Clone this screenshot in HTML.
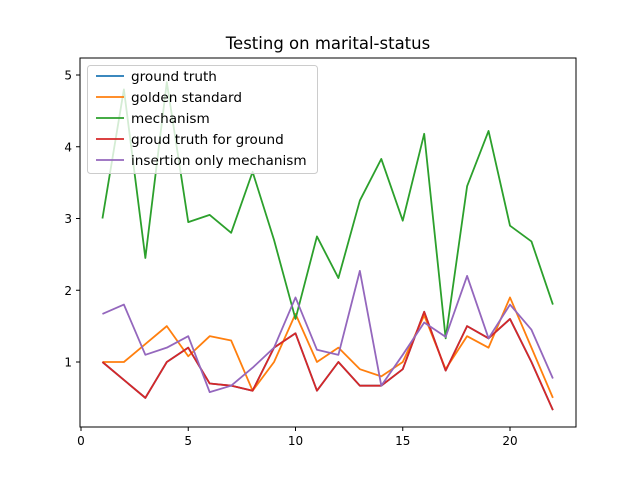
<!DOCTYPE html>
<html><head><meta charset="utf-8"><style>
body{margin:0;background:#fff}
svg{font-family:"DejaVu Sans","Liberation Sans",sans-serif}
</style></head><body>
<svg width="640" height="480" id="c">
<rect width="640" height="480" fill="#fff"/>
<text x="328" y="49" font-size="16.5" text-anchor="middle">Testing on marital-status</text>
<g id="plot"></g>
<rect x="80" y="58" width="496" height="369" fill="none" stroke="#000" stroke-width="1"/>
<g id="axes"></g>
<g id="legend"></g>
</svg>
<script>
const xs=[1,2,3,4,5,6,7,8,9,10,11,12,13,14,15,16,17,18,19,20,21,22];
const groundTruth=[1,0.75,0.5,1,1.2,0.7,0.67,0.6,1.2,1.4,0.6,1,0.67,0.67,0.9,1.7,0.88,1.5,1.33,1.6,1,0.33];
const goldenStandard=[1,1,1.25,1.5,1.08,1.36,1.3,0.6,1,1.67,1,1.2,0.9,0.8,1,1.65,0.9,1.36,1.2,1.9,1.2,0.5];
const mechanism=[3,4.8,2.45,4.9,2.95,3.05,2.8,3.65,2.7,1.6,2.75,2.17,3.25,3.83,2.97,4.18,1.33,3.45,4.22,2.9,2.68,1.8];
const groundTruthForGround=[1,0.75,0.5,1,1.2,0.7,0.67,0.6,1.2,1.4,0.6,1,0.67,0.67,0.9,1.7,0.88,1.5,1.33,1.6,1,0.33];
const insertionOnly=[1.67,1.8,1.1,1.2,1.36,0.58,0.67,0.92,1.2,1.9,1.17,1.1,2.27,0.67,1.1,1.55,1.35,2.2,1.33,1.8,1.45,0.77];
const xTicks=[0,5,10,15,20];
const yTicks=[1,2,3,4,5];
const seriesNames=["ground truth","golden standard","mechanism","groud truth for ground","insertion only mechanism"];
const colors=["#1f77b4","#ff7f0e","#2ca02c","#d62728","#9467bd"];
const NS="http://www.w3.org/2000/svg";
const X=v=>81+v*21.45;
const Y=v=>362-(v-1)*71.75;
function mk(t,a,p){const e=document.createElementNS(NS,t);for(const k in a)e.setAttribute(k,a[k]);p.appendChild(e);return e;}
const plot=document.getElementById('plot'),axes=document.getElementById('axes'),leg=document.getElementById('legend');
const all=[groundTruth,goldenStandard,mechanism,groundTruthForGround,insertionOnly];
all.forEach((s,i)=>{
 const pl=mk('polyline',{points:s.map((v,j)=>X(xs[j])+','+Y(v)).join(' '),fill:'none',stroke:colors[i],'stroke-width':1.8,'stroke-linejoin':'round'},plot);
 
 
});
xTicks.forEach(t=>{
 const l=mk('line',{x1:X(t),x2:X(t),y1:427,y2:431,stroke:'#000'},axes);
 
 
 const tx=mk('text',{x:X(t),y:445,'font-size':12,'text-anchor':'middle'},axes);tx.textContent=t;
 
 
});
yTicks.forEach(t=>{
 const l=mk('line',{x1:76,x2:80,y1:Y(t),y2:Y(t),stroke:'#000'},axes);
 
 
 const tx=mk('text',{x:72,y:Y(t)+4.5,'font-size':12,'text-anchor':'end'},axes);tx.textContent=t;
 
 
});
const box=mk('rect',{x:87.5,y:65.5,width:230,height:108,rx:3,fill:'#fff','fill-opacity':0.8,stroke:'#ccc'},leg);


seriesNames.forEach((n,i)=>{
 const y=76+i*21;
 const l=mk('line',{x1:96,x2:124,y1:y,y2:y,stroke:colors[i],'stroke-width':1.8},leg);
 
 
 const t=mk('text',{x:131,y:y+4.8,'font-size':13.6},leg);t.textContent=n;
 
 
});
</script>
</body></html>
